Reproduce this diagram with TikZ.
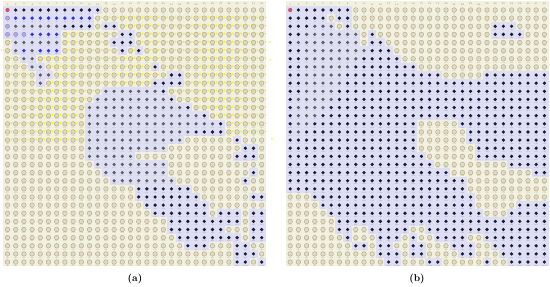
\documentclass[tikz,border=0pt]{standalone}
\usetikzlibrary{positioning}
\definecolor{paper}{HTML}{F2F0DF}
\definecolor{ring}{HTML}{B3A98A}
\definecolor{lav}{HTML}{DFDFF4}
\definecolor{lilac}{HTML}{B6A6EE}
\definecolor{ink}{HTML}{1A1A3A}
\definecolor{slate}{HTML}{5E5E66}
\definecolor{cellblue}{HTML}{3333E6}
\definecolor{olive}{HTML}{DEDAB4}
\definecolor{spark}{HTML}{F2F000}
\definecolor{start}{HTML}{D0506A}
\definecolor{tagpurple}{HTML}{7A6CC8}

\tikzset{
  ringcell/.style={draw=ring, fill=paper!70!ring, line width=0.45pt},
  lavcell/.style={fill=lav},
  idx/.style={font=\fontsize{1.7}{1.8}\selectfont, text=ring!90!black, inner sep=0pt},
  colnum/.style={font=\fontsize{2.4}{2.6}\selectfont, text=gray, inner sep=0pt},
  caption/.style={font=\fontsize{10}{11}\selectfont\bfseries, inner sep=0pt},
}

\newcount\cellcol
\def\splitrun#1#2\relax{\def\rtype{#1}\def\rcount{#2}}
\newcommand\drawcell[1]{%
  \pgfmathsetmacro\cx{\px+(\the\cellcol-1)*8.2}%
  \pgfmathsetmacro\cy{10+(\py-1)*8.13}%
  \pgfmathtruncatemacro\cn{(\py-1)*32+\the\cellcol}%
  \def\tagcol{ring!90!black}%
  \if#1o\path[ringcell] (\cx,\cy) circle[radius=2.3];\fi
  \if#1y\path[ringcell,fill=olive] (\cx,\cy) circle[radius=2.3];
    \fill[spark] (\cx+3.9,\cy-0.8) circle[radius=0.9];\fi
  \if#1k\fill[lavcell] (\cx-4.2,\cy-4.2) rectangle (\cx+4.2,\cy+4.2);
    \fill[ink] (\cx,\cy) circle[radius=1.8];\def\tagcol{tagpurple}\fi
  \if#1g\fill[lavcell] (\cx-4.2,\cy-4.2) rectangle (\cx+4.2,\cy+4.2);
    \fill[slate] (\cx,\cy) circle[radius=1.8];\fi
  \if#1b\fill[lavcell] (\cx-4.2,\cy-4.2) rectangle (\cx+4.2,\cy+4.2);
    \fill[cellblue] (\cx,\cy) circle[radius=1.9];\def\tagcol{tagpurple}\fi
  \if#1l\fill[lavcell] (\cx-4.2,\cy-4.2) rectangle (\cx+4.2,\cy+4.2);
    \path[draw=lilac!80!black, fill=lilac] (\cx,\cy) circle[radius=2.1];\fi
  \if#1r\fill[lavcell] (\cx-4.2,\cy-4.2) rectangle (\cx+4.2,\cy+4.2);
    \fill[start] (\cx,\cy) circle[radius=2.1];\fi
  \node[idx, text=\tagcol] (\ptag-\cn) at (\cx,\cy+3.7) {\cn};
}
% rows given as runs: type letter + count
\newcommand\panelrows[3]{%
  \def\ptag{#1}\def\px{#2}%
  \foreach \py/\runs in {#3}{%
    \global\cellcol=0
    \foreach \run in \runs{%
      \expandafter\splitrun\run\relax
      \foreach \i in {1,...,\rcount}{%
        \global\advance\cellcol by 1
        \expandafter\drawcell\expandafter{\rtype}}}}}

\begin{document}
\begin{tikzpicture}[x=1pt,y=-1pt]
  \useasboundingbox (0,0) rectangle (550,287);
  \fill[white] (0,0) rectangle (550,287);

  % panel backgrounds
  \fill[paper] (3,1) rectangle (266,266);
  \fill[paper] (286,1) rectangle (549,266);

  % ---- panel (a) ----
  \panelrows{pa}{7.5}{%
1/{r1,k11,o20},%
2/{l1,b10,y21},%
3/{l1,g6,k4,y1,k2,y18},%
4/{l3,b4,y7,k2,y16},%
5/{y1,g6,y6,k3,y16},%
6/{y1,g1,b1,g1,b3,y7,k1,y1,k1,y15},%
7/{y2,g2,y28},%
8/{y3,g2,y13,k1,y13},%
9/{y4,g2,y14,k2,y10},%
10/{y4,g1,y13,k4,y10},%
11/{y12,g7,k1,y12},%
12/{y11,g9,k1,y11},%
13/{y10,g12,k1,y9},%
14/{y10,g14,k1,y7},%
15/{y10,g16,k1,y5},%
16/{y10,g13,k4,y5},%
17/{y10,g12,o6,k1,o3},%
18/{o10,g10,o9,k2,o1},%
19/{o10,g6,o12,k3,o1},%
20/{o11,g9,o12},%
21/{o12,g8,o10,k1,o1},%
22/{o13,g8,o8,k1,o2},%
23/{o16,k7,o9},%
24/{o16,k8,o6,k2},%
25/{o17,k8,o7},%
26/{o18,k7,o1,k3,o1,k2},%
27/{o20,k9,o1,k2},%
28/{o20,k7,o3,k2},%
29/{o21,k8,o1,k2},%
30/{o22,k3,o3,k2,o2},%
31/{o28,k3,o1},%
32/{o28,k2,o1,k1}}

  % ---- panel (b) ----
  \panelrows{pb}{290.2}{%
1/{r1,k7,o24},%
2/{k5,o1,k2,o24},%
3/{k3,g3,o1,k1,o17,k3,o4},%
4/{k2,g7,o1,k1,o14,k4,o3},%
5/{k1,g8,o1,k2,o20},%
6/{k2,g8,k3,o19},%
7/{k2,g7,k5,o18},%
8/{k2,g6,k8,o16},%
9/{k2,g5,k12,o5,k8},%
10/{k2,g5,k25},%
11/{k2,g4,k26},%
12/{k1,g5,k26},%
13/{k1,g4,k27},%
14/{k1,g3,k28},%
15/{k1,g2,k13,o5,k11},%
16/{k1,g1,k14,o6,k10},%
17/{k16,o6,k10},%
18/{k16,o7,k9},%
19/{k17,o6,k9},%
20/{k18,o9,k5},%
21/{k20,o10,k2},%
22/{k22,o10},%
23/{k22,o10},%
24/{o3,k20,o9},%
25/{o4,k19,o5,k4},%
26/{o5,k19,o3,k5},%
27/{o6,k26},%
28/{o6,k2,o2,k5,o2,k15},%
29/{o7,k1,o3,k3,o1,k1,o2,k4,o2,k8},%
30/{o8,k2,o1,k2,o2,k2,o3,k3,o2,k7},%
31/{o11,k3,o1,k2,o4,k2,o3,k6},%
32/{o12,k2,o3,k2,o5,k1,o2,k5}}

  % column numbers
  \foreach \c in {1,...,32}{
    \node[colnum] (na\c) at ({7.5+(\c-1)*8.2},4.2) {\c};
    \node[colnum] (nb\c) at ({290.2+(\c-1)*8.2},4.2) {\c};
  }

  % stray marks beside panel (a)
  \fill[spark] (270,42) circle[radius=0.9];
  \fill[spark] (270,60) circle[radius=0.9];
  \fill[spark] (272,139) circle[radius=0.9];
  \fill[spark] (1.5,50) circle[radius=0.9];

  % captions
  \node[caption] (capA) at (135,279) {(a)};
  \node[caption] (capB) at (417,279) {(b)};
\end{tikzpicture}
\end{document}
